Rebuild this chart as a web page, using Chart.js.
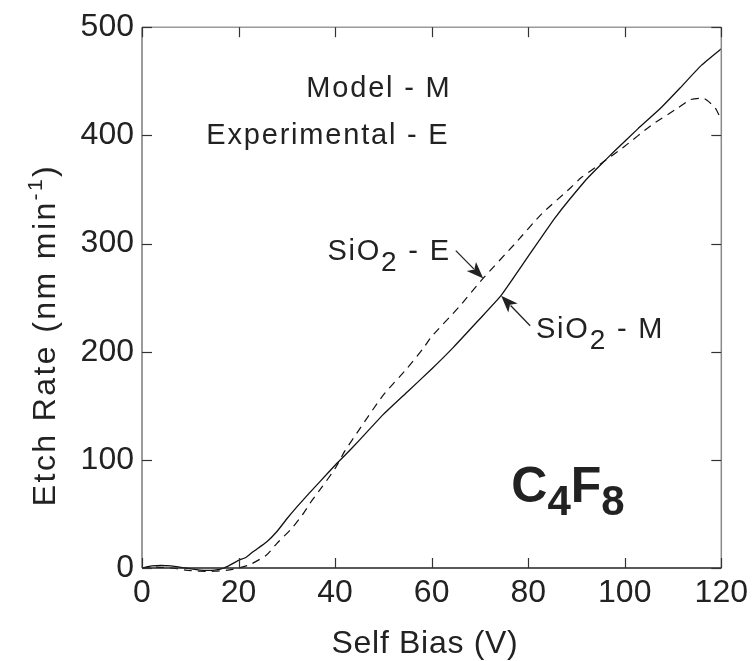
<!DOCTYPE html>
<html>
<head>
<meta charset="utf-8">
<script src="https://cdn.jsdelivr.net/npm/chart.js@4.4.1/dist/chart.umd.min.js"></script>
<style>
  html, body { margin: 0; padding: 0; background: #fff; }
  #wrap { width: 754px; height: 661px; }
</style>
</head>
<body>
<div id="wrap"><canvas id="chart" width="754" height="661"></canvas></div>
<script>
// Self bias (V) vs etch rate (nm/min), C4F8
const biasModel = [0, 2, 6, 9, 12, 15, 17, 20, 21.6, 23, 25.8, 28, 30.1, 32, 34.6, 37.1, 40, 42, 45, 50, 55, 60, 64.5, 69.7, 74.4, 80.6, 85.6, 91.8, 94.4, 98, 102.7, 107.4, 111.5, 115.7, 120];
const rateModel = [0, 2, 2, 0, -2, -2, 0, 7, 10, 15, 24, 34, 46, 56, 69, 81, 95, 104, 118, 142, 163, 184, 204, 229, 252, 292, 324, 358, 370, 386, 406, 425, 444, 464, 480];

const biasExp = [0, 2, 6, 9, 12, 15, 17.7, 20, 22.3, 25.8, 28, 31.1, 33.2, 35.3, 37.3, 40, 42, 45, 50, 55, 58.4, 60, 65.6, 70.7, 77.5, 82.7, 88.9, 91, 94.8, 100, 105.4, 110.9, 113.6, 116.5, 118.8, 120];
const rateExp = [0, 1, 0, -2, -3, -3, -2, 0, 3, 12, 23, 37, 49, 63, 75, 92, 108, 128, 160, 185, 204, 214, 241, 268, 301, 327, 352, 361, 373, 390, 409, 425, 433, 434, 425, 414];

const xTicks = [0, 20, 40, 60, 80, 100, 120];
const yTicks = [0, 100, 200, 300, 400, 500];

const FONT = '"Liberation Sans", Arial, Helvetica, sans-serif';
const INK = '#222';

function toPoints(xs, ys) {
  return xs.map((x, i) => ({ x: x, y: ys[i] }));
}

// text with sub/superscript parts, left aligned at x
function partsWidth(ctx, parts) {
  let w = 0;
  parts.forEach(p => {
    ctx.font = (p.bold ? 'bold ' : '') + p.size + 'px ' + FONT;
    w += ctx.measureText(p.t).width;
  });
  return w;
}

function drawParts(ctx, x, y, parts) {
  let cx = x;
  parts.forEach(p => {
    ctx.font = (p.bold ? 'bold ' : '') + p.size + 'px ' + FONT;
    ctx.fillText(p.t, cx, y + (p.dy || 0));
    cx += ctx.measureText(p.t).width;
  });
}

function drawArrow(ctx, x1, y1, x2, y2) {
  const a = Math.atan2(y2 - y1, x2 - x1);
  const len = 17, half = 6.5;
  ctx.beginPath();
  ctx.moveTo(x1, y1);
  ctx.lineTo(x2 - Math.cos(a) * len * 0.8, y2 - Math.sin(a) * len * 0.8);
  ctx.lineWidth = 1.3;
  ctx.stroke();
  ctx.beginPath();
  ctx.moveTo(x2, y2);
  ctx.lineTo(x2 - Math.cos(a) * len - Math.sin(a) * half, y2 - Math.sin(a) * len + Math.cos(a) * half);
  ctx.lineTo(x2 - Math.cos(a) * len * 0.75, y2 - Math.sin(a) * len * 0.75);
  ctx.lineTo(x2 - Math.cos(a) * len + Math.sin(a) * half, y2 - Math.sin(a) * len - Math.cos(a) * half);
  ctx.closePath();
  ctx.fill();
}

// frame with inward ticks on all four sides
const framePlugin = {
  id: 'frame',
  afterDraw(chart) {
    const { ctx, chartArea: a, scales: { x, y } } = chart;
    ctx.save();
    ctx.lineWidth = 1.5;
    const side = (c, x1, y1, x2, y2) => {
      ctx.strokeStyle = c;
      ctx.beginPath(); ctx.moveTo(x1, y1); ctx.lineTo(x2, y2); ctx.stroke();
    };
    side('#9a9a9a', a.left, a.top, a.right, a.top);
    side('#8a8a8a', a.right, a.top, a.right, a.bottom);
    side('#7a7a7a', a.left, a.top, a.left, a.bottom);
    side('#222', a.left, a.bottom, a.right, a.bottom);
    ctx.strokeStyle = '#333';
    ctx.lineWidth = 1.2;
    const tl = 10;
    xTicks.forEach(v => {
      const px = Math.round(x.getPixelForValue(v)) + 0.5;
      ctx.beginPath(); ctx.moveTo(px, a.bottom); ctx.lineTo(px, a.bottom - tl); ctx.stroke();
      ctx.beginPath(); ctx.moveTo(px, a.top); ctx.lineTo(px, a.top + tl); ctx.stroke();
    });
    yTicks.forEach(v => {
      const py = Math.round(y.getPixelForValue(v)) + 0.5;
      ctx.beginPath(); ctx.moveTo(a.left, py); ctx.lineTo(a.left + tl, py); ctx.stroke();
      ctx.beginPath(); ctx.moveTo(a.right, py); ctx.lineTo(a.right - tl, py); ctx.stroke();
    });
    ctx.restore();
  }
};

// axis titles and in-plot labels
const labelPlugin = {
  id: 'labels',
  afterDraw(chart) {
    const { ctx, scales: { x, y } } = chart;
    const X = v => x.getPixelForValue(v), Y = v => y.getPixelForValue(v);
    ctx.save();
    ctx.fillStyle = INK;
    ctx.strokeStyle = INK;
    ctx.textBaseline = 'alphabetic';

    // x title
    ctx.letterSpacing = '0.7px';
    ctx.font = '32px ' + FONT;
    ctx.textAlign = 'center';
    ctx.fillText('Self Bias (V)', 425, 653);

    // y title, rotated
    ctx.save();
    ctx.letterSpacing = '2.4px';
    ctx.translate(55, 335);
    ctx.rotate(-Math.PI / 2);
    const yParts = [
      { t: 'Etch Rate (nm min', size: 32 },
      { t: '-1', size: 21, dy: -13 },
      { t: ')', size: 32 }
    ];
    ctx.textAlign = 'left';
    drawParts(ctx, -partsWidth(ctx, yParts) / 2, 0, yParts);
    ctx.restore();

    // notes
    ctx.letterSpacing = '1.8px';
    ctx.textAlign = 'right';
    ctx.font = '29px ' + FONT;
    ctx.fillText('Model - M', X(64.1), Y(435.4));
    ctx.fillText('Experimental - E', X(63.7), Y(392));

    ctx.textAlign = 'left';
    drawParts(ctx, X(38.4), Y(285), [
      { t: 'SiO', size: 29 }, { t: '2', size: 28, dy: 11 }, { t: ' - E', size: 29 }
    ]);
    drawParts(ctx, X(81.6), Y(213), [
      { t: 'SiO', size: 29 }, { t: '2', size: 28, dy: 11 }, { t: ' - M', size: 29 }
    ]);
    drawArrow(ctx, X(65), Y(293.4), X(70.7), Y(267.6));
    drawArrow(ctx, X(80.4), Y(224), X(74.4), Y(251.8));

    ctx.letterSpacing = '0px';
    drawParts(ctx, X(76.5), Y(61), [
      { t: 'C', size: 50, bold: true }, { t: '4', size: 42, bold: true, dy: 13 },
      { t: 'F', size: 50, bold: true }, { t: '8', size: 42, bold: true, dy: 13 }
    ]);
    ctx.restore();
  }
};

new Chart(document.getElementById('chart'), {
  type: 'line',
  data: {
    datasets: [
      {
        label: 'SiO2 - M',
        data: toPoints(biasModel, rateModel),
        borderColor: '#111',
        borderWidth: 1.3,
        pointRadius: 0,
        tension: 0.15,
        clip: 10
      },
      {
        label: 'SiO2 - E',
        data: toPoints(biasExp, rateExp),
        borderColor: '#111',
        borderWidth: 1.2,
        borderDash: [8, 6],
        pointRadius: 0,
        tension: 0.2,
        clip: 10
      }
    ]
  },
  options: {
    responsive: false,
    animation: false,
    layout: { padding: { top: 26, right: 30, left: 0, bottom: 0 } },
    plugins: { legend: { display: false }, tooltip: { enabled: false } },
    scales: {
      x: {
        type: 'linear',
        min: 0,
        max: 120,
        afterBuildTicks: s => { s.ticks = xTicks.map(v => ({ value: v })); },
        afterFit: s => { s.height = 93; },
        grid: { display: false, drawTicks: false },
        border: { display: false },
        ticks: { font: { size: 32, family: FONT }, color: INK, padding: 6, maxRotation: 0 }
      },
      y: {
        min: 0,
        max: 500,
        afterBuildTicks: s => { s.ticks = yTicks.map(v => ({ value: v })); },
        afterFit: s => { s.width = 142; },
        grid: { display: false, drawTicks: false },
        border: { display: false },
        ticks: { font: { size: 32, family: FONT }, color: INK, padding: 8 }
      }
    }
  },
  plugins: [framePlugin, labelPlugin]
});
</script>
</body>
</html>
